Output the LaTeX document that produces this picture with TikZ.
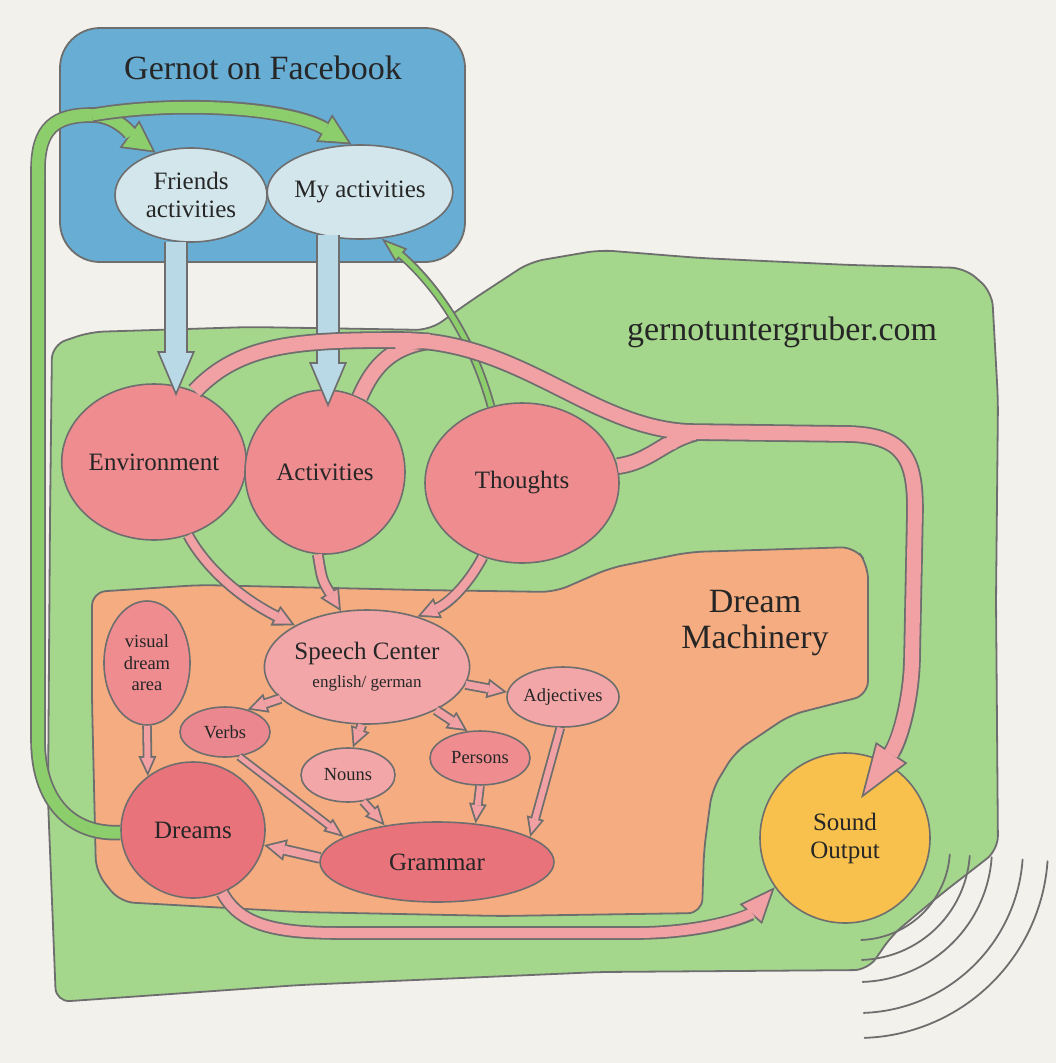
\documentclass[tikz,border=0pt]{standalone}
\usepackage{fontspec}
\setmainfont{Liberation Serif}
\usetikzlibrary{calc,shapes.geometric,arrows.meta}

\definecolor{paper}{HTML}{F3F1EC}
\definecolor{pencil}{HTML}{6E6E6E}
\definecolor{fbblue}{HTML}{68ADD3}
\definecolor{mistblue}{HTML}{D3E6EC}
\definecolor{streamblue}{HTML}{B9D9E6}
\definecolor{greenwash}{HTML}{A4D78C}
\definecolor{greenarrow}{HTML}{8CCD6C}
\definecolor{orangewash}{HTML}{F5AC80}
\definecolor{rosewash}{HTML}{EE8C90}
\definecolor{rosedeep}{HTML}{E8737B}
\definecolor{roselight}{HTML}{F2A6A8}
\definecolor{pinkwash}{HTML}{F1A0A4}
\definecolor{sunwash}{HTML}{F8C04C}

\newcommand{\bigfont}{\fontsize{34}{36}\selectfont}
\newcommand{\labelfont}{\fontsize{25}{28}\selectfont}
\newcommand{\smallfont}{\fontsize{18.5}{21.5}\selectfont}
\newcommand{\tinyfont}{\fontsize{17}{19}\selectfont}

% #2 wash colour, #3 shaft width, #4 tip length, #5 tip width, #6 path
\newcommand{\fatarrow}[6][]{%
	\pgfmathsetlengthmacro{\fatout}{#3+3.6pt}%
	\pgfmathsetlengthmacro{\fatback}{1.8pt/sin(atan(0.5*#5/#4))}%
	\pgfmathsetlengthmacro{\fatlen}{#4-1.8pt-\fatback}%
	\pgfmathsetlengthmacro{\fatwid}{#5*(#4-1.8pt-\fatback)/#4}%
	\draw[pencil, line width=\fatout, -{Triangle[length=#4, width=#5, line width=0pt]}, #1] #6;
	\draw[#2, line width=#3, shorten >=\fatback, -{Triangle[length=\fatlen, width=\fatwid, line width=0pt]}, #1] #6;
}

\tikzset{
	region/.style={draw=pencil, line width=1.8pt, rounded corners=14pt},
	regionlabel/.style={font=\bigfont, text=black!85, align=center},
	blob/.style={ellipse, draw=pencil, line width=1.6pt, inner sep=0pt, align=center, font=\labelfont, text=black!85},
	blobsize/.style 2 args={minimum width=#1, minimum height=#2},
	branchout/.style={draw=pencil, line width=17.6pt},
	branchin/.style={draw=pinkwash, line width=14pt},
	wave/.style={draw=pencil, line width=1.8pt, line cap=round}
}

\begin{document}
\begin{tikzpicture}[x=1pt, y=-1pt, line join=round]
\useasboundingbox (0,0) rectangle (1056,1063);
\fill[paper] (0,0) rectangle (1056,1063);

% regions
\draw[region, fill=fbblue, rounded corners=40pt] (60,28) rectangle (465,262);
\draw[region, fill=greenwash] (52,345) -- (90,332) -- (250,327) -- (430,330) -- (472,300)
	-- (530,262) -- (600,250) -- (700,258) -- (850,265) -- (965,268) -- (992,292)
	-- (998,400) -- (996,600) -- (998,850) -- (940,895) -- (892,935) -- (868,970)
	-- (600,972) -- (300,985) -- (56,1002) -- (48,800) -- (50,520) -- cycle;
\draw[region, fill=orangewash] (92,592) -- (200,585) -- (420,590) -- (555,592) -- (610,568)
	-- (690,552) -- (855,547) -- (868,565) -- (868,695) -- (790,715) -- (735,752)
	-- (712,790) -- (704,850) -- (702,913) -- (500,916) -- (300,912) -- (120,902)
	-- (96,872) -- (92,700) -- cycle;

\node[regionlabel] (fbtitle) at (263,68) {Gernot on Facebook};
\node[regionlabel] (webtitle) at (782,332) {gernotuntergruber.com};
\node[regionlabel] (dmtitle) at (755,623) {Dream\\Machinery};

% facebook
\node[blob, fill=mistblue, blobsize={152pt}{94pt}] (fa) at (191,195) {Friends\\activities};
\node[blob, fill=mistblue, blobsize={166pt}{94pt}] (ma) at (360,192) {My activities};

% website
\node[blob, fill=rosewash, blobsize={152pt}{156pt}] (env) at (154,462) {Environment};
\node[blob, fill=rosewash, blobsize={160pt}{164pt}] (act) at (325,472) {Activities};
\node[blob, fill=rosewash, blobsize={194pt}{160pt}] (tho) at (522,483) {Thoughts};
\node[blob, fill=sunwash, blobsize={170pt}{170pt}] (sound) at (845,838) {Sound\\Output};

% dream machinery
\node[blob, fill=roselight, blobsize={184pt}{114pt}] (sc) at (367,667) {Speech Center\\{\tinyfont english/ german}};
\node[blob, fill=rosewash, blobsize={86pt}{124pt}, font=\smallfont] (vda) at (147,663) {visual\\dream\\area};
\node[blob, fill=rosedeep!85, blobsize={90pt}{50pt}, font=\smallfont] (verbs) at (225,732) {Verbs};
\node[blob, fill=roselight, blobsize={94pt}{54pt}, font=\smallfont] (nouns) at (348,775) {Nouns};
\node[blob, fill=rosewash, blobsize={100pt}{54pt}, font=\smallfont] (persons) at (480,758) {Persons};
\node[blob, fill=roselight, blobsize={112pt}{60pt}, font=\smallfont] (adj) at (563,697) {Adjectives};
\node[blob, fill=rosedeep, blobsize={144pt}{136pt}] (dreams) at (193,830) {Dreams};
\node[blob, fill=rosedeep, blobsize={234pt}{80pt}] (grammar) at (437,862) {Grammar};

% facebook feeds the website
\coordinate (fa-out) at ($(fa.south)+(-15,-1)$);
\coordinate (ma-out) at ($(ma.south)+(-32,-5)$);
\fatarrow{streamblue}{20pt}{45pt}{38pt}{(fa-out) -- ($(fa-out |- env.north)+(0,13)$)}
\fatarrow{streamblue}{20pt}{45pt}{38pt}{(ma-out) -- ($(ma-out |- act.north)+(0,18)$)}

% dreams go back to facebook
\fatarrow{greenarrow}{12pt}{32pt}{34pt}{(dreams.182) .. controls (70,835) and (38,800) .. (38,740)
	-- (38,170) .. controls (38,128) and (55,115) .. (92,115) .. controls (118,115) and (135,138) .. (fa.130)}
\fatarrow{greenarrow}{11pt}{32pt}{32pt}{(92,115) .. controls (180,100) and (290,108) .. (ma.100)}
\draw[greenarrow, line width=12pt] (38,180) -- (38,170) .. controls (38,128) and (55,115) .. (92,115);
\fatarrow{greenarrow}{5pt}{26pt}{18pt}{(tho.112) .. controls (470,330) and (430,280) .. (ma.-65)}

% everything on the website is spoken out
\draw[branchout] (act.65) .. controls (375,362) and (395,346) .. (430,341);
\draw[branchin] (act.65) .. controls (375,362) and (395,346) .. (430,341);
\draw[branchout] (tho.10) .. controls (650,462) and (665,440) .. (695,433);
\draw[branchin] (tho.10) .. controls (650,462) and (665,440) .. (695,433);
\fatarrow{pinkwash}{14pt}{55pt}{38pt}{(env.60) .. controls (240,343) and (300,340) .. (400,340)
	.. controls (520,340) and (590,428) .. (690,432) -- (850,434) .. controls (905,436) and (915,460) .. (915,510)
	-- (912,660) .. controls (911,700) and (900,740) .. ($(sound.center)!0.5!(sound.68)$)}
\draw[branchin] (395,347) .. controls (405,343) and (415,341) .. (430,341);
\draw[branchin] (670,444) .. controls (678,437) and (686,434) .. (695,433);
\fatarrow{pinkwash}{10pt}{36pt}{30pt}{(dreams.-65) .. controls (240,925) and (275,933) .. (340,933)
	-- (640,933) .. controls (710,932) and (750,915) .. (sound.-145)}

% inside the dream machinery
\fatarrow{pinkwash}{8pt}{22pt}{22pt}{(env.-65) .. controls (210,575) and (250,603) .. (sc.150)}
\fatarrow{pinkwash}{8pt}{22pt}{22pt}{(act.-95) .. controls (322,580) .. (sc.115)}
\fatarrow{pinkwash}{8pt}{22pt}{22pt}{(tho.-118) .. controls (465,590) and (445,605) .. (sc.45)}
\fatarrow{pinkwash}{7pt}{20pt}{20pt}{(sc.200) -- (verbs.45)}
\fatarrow{pinkwash}{7pt}{20pt}{20pt}{(sc.-95) -- (nouns.80)}
\fatarrow{pinkwash}{7pt}{20pt}{20pt}{(sc.-32) -- (persons.115)}
\fatarrow{pinkwash}{7pt}{20pt}{20pt}{(sc.-10) -- (adj.175)}
\fatarrow{pinkwash}{6pt}{20pt}{18pt}{(vda.south) -- (dreams.130)}
\fatarrow{pinkwash}{5pt}{20pt}{16pt}{(verbs.-60) -- (grammar.165)}
\fatarrow{pinkwash}{6pt}{20pt}{18pt}{(nouns.-60) -- (grammar.145)}
\fatarrow{pinkwash}{6pt}{20pt}{18pt}{(persons.-90) -- (grammar.45)}
\fatarrow{pinkwash}{6pt}{20pt}{18pt}{(adj.-95) -- (grammar.15)}
\fatarrow{pinkwash}{8pt}{22pt}{22pt}{(grammar.178) -- (dreams.-12)}

% sound waves
\foreach \r in {92,112,134,165,190}
	\draw[wave] plot[domain=4:88, smooth, samples=30] ({858+\r*cos(\x)},{848+\r*sin(\x)});
\end{tikzpicture}
\end{document}
